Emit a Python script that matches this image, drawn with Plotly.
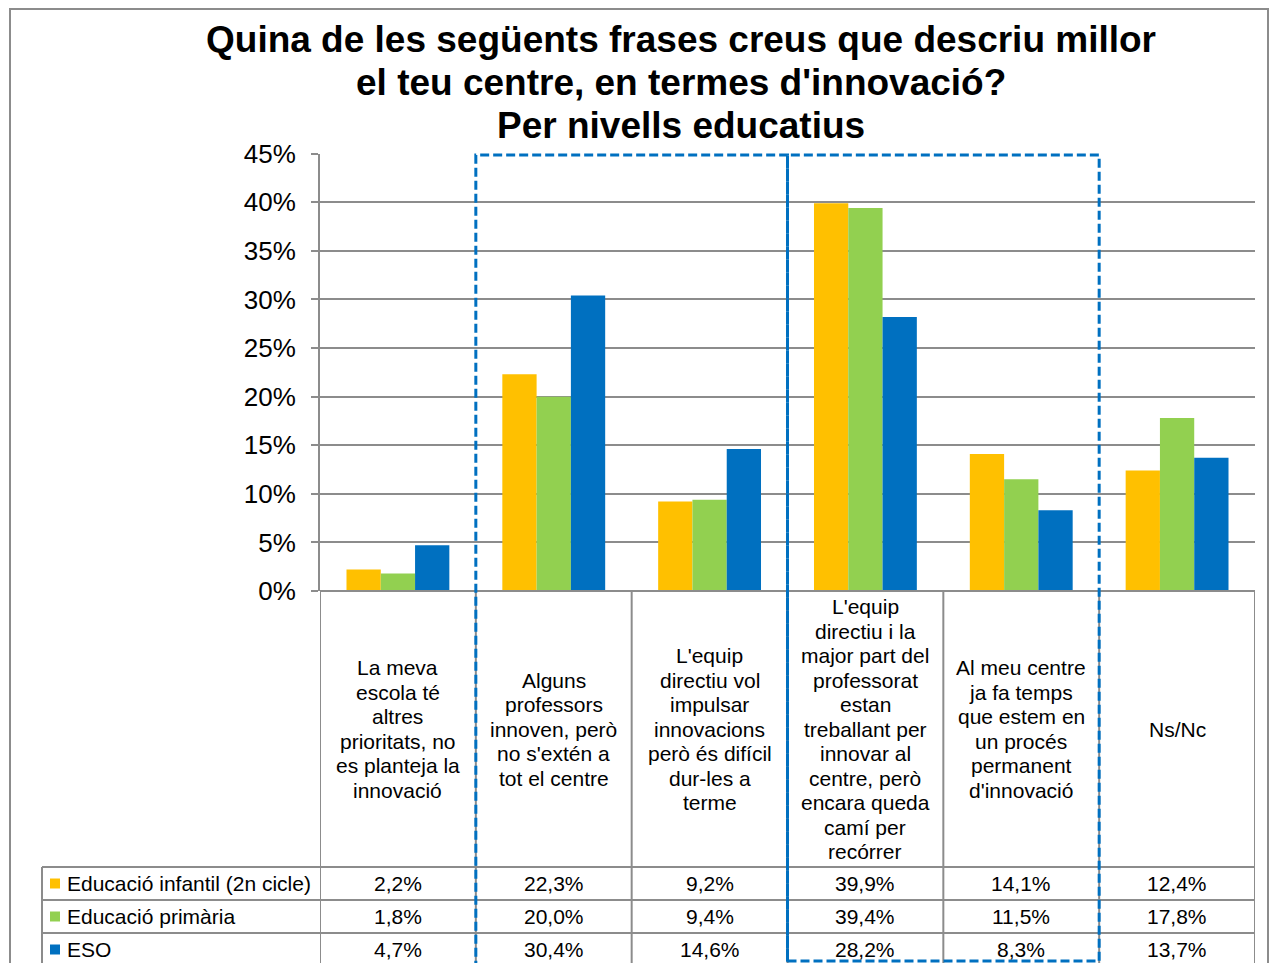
import plotly.graph_objects as go

# ---------------- data ----------------
categories = [
    "La meva<br>escola té<br>altres<br>prioritats, no<br>es planteja la<br>innovació",
    "Alguns<br>professors<br>innoven, però<br>no s'extén a<br>tot el centre",
    "L'equip<br>directiu vol<br>impulsar<br>innovacions<br>però és difícil<br>dur-les a<br>terme",
    "L'equip<br>directiu i la<br>major part del<br>professorat<br>estan<br>treballant per<br>innovar al<br>centre, però<br>encara queda<br>camí per<br>recórrer",
    "Al meu centre<br>ja fa temps<br>que estem en<br>un procés<br>permanent<br>d'innovació",
    "Ns/Nc",
]
series_names = ["Educació infantil (2n cicle)", "Educació primària", "ESO"]
infantil = [2.2, 22.3, 9.2, 39.9, 14.1, 12.4]
primaria = [1.8, 20.0, 9.4, 39.4, 11.5, 17.8]
eso = [4.7, 30.4, 14.6, 28.2, 8.3, 13.7]
series_values = [infantil, primaria, eso]
colors = ["#FFC000", "#92D050", "#0070C0"]
title_lines = [
    "Quina de les següents frases creus que descriu millor",
    "el teu centre, en termes d'innovació?",
    "Per nivells educatius",
]

# ---------------- layout helpers ----------------
OFF = 8                      # page body margin
W, H = 1282 - OFF, 963 - OFF
FONT = "Liberation Sans, Arial, sans-serif"
GRID = "#8C8C8C"
BLUE = "#0070C0"


def X(px):
    return (px - OFF) / W


def Y(py):
    return 1 - (py - OFF) / H


plot_left, plot_right = 320, 1255
plot_top, plot_bottom = 153.7, 591
x_keys = [c.replace("<br>", " ") for c in categories]

fig = go.Figure()
for name, vals, col in zip(series_names, series_values, colors):
    fig.add_trace(go.Bar(
        x=x_keys, y=[v / 100 for v in vals], name=name,
        marker=dict(color=col, line=dict(width=0)),
        showlegend=False, hoverinfo="skip",
    ))

shapes = []
annotations = []

# outer frame
shapes.append(dict(type="rect", xref="paper", yref="paper",
                   x0=X(10), x1=X(1268), y0=Y(975), y1=Y(9),
                   line=dict(color=GRID, width=2), layer="below"))

# title
for k, t in enumerate(title_lines):
    annotations.append(dict(text=f"<b>{t}</b>", xref="paper", yref="paper",
                            x=X(681), y=Y(40 + 42.5 * k), xanchor="center", yanchor="middle",
                            showarrow=False, font=dict(family=FONT, size=37, color="black")))

# table grid lines
table_rows = [867, 900, 933, 966]
shapes.append(dict(type="line", xref="paper", yref="paper",
                   x0=X(plot_left), x1=X(plot_right), y0=Y(plot_bottom), y1=Y(plot_bottom),
                   line=dict(color=GRID, width=2)))
for ry in table_rows:
    shapes.append(dict(type="line", xref="paper", yref="paper",
                       x0=X(42), x1=X(plot_right), y0=Y(ry), y1=Y(ry),
                       line=dict(color=GRID, width=2)))
for i in range(len(categories) + 1):
    shapes.append(dict(type="line", xref="x", yref="paper",
                       x0=i - 0.5, x1=i - 0.5, y0=Y(plot_bottom), y1=Y(975),
                       line=dict(color=GRID, width=2)))
shapes.append(dict(type="line", xref="paper", yref="paper",
                   x0=X(42), x1=X(42), y0=Y(867), y1=Y(975),
                   line=dict(color=GRID, width=2)))

# category labels (one annotation per line)
line_h = 24.5
cat_center = (plot_bottom + 867) / 2
for i, c in enumerate(categories):
    lines = c.split("<br>")
    n = len(lines)
    for k, ln in enumerate(lines):
        annotations.append(dict(text=ln, xref="x", yref="paper", x=i,
                                y=Y(cat_center + (k - (n - 1) / 2) * line_h),
                                xanchor="center", yanchor="middle", showarrow=False,
                                font=dict(family=FONT, size=21, color="black")))

# table values and row labels
row_centers = [883.5, 916.5, 949.5]
for r, (name, vals, col) in enumerate(zip(series_names, series_values, colors)):
    yc = row_centers[r]
    shapes.append(dict(type="rect", xref="paper", yref="paper",
                       x0=X(50), x1=X(60), y0=Y(yc + 5), y1=Y(yc - 5),
                       fillcolor=col, line=dict(width=0)))
    annotations.append(dict(text=name, xref="paper", yref="paper", x=X(65), y=Y(yc),
                            xanchor="left", yanchor="middle", showarrow=False,
                            font=dict(family=FONT, size=21, color="black")))
    for i, v in enumerate(vals):
        annotations.append(dict(text=f"{v:.1f}%".replace(".", ","), xref="x", yref="paper",
                                x=i, y=Y(yc), xanchor="center", yanchor="middle",
                                showarrow=False, font=dict(family=FONT, size=21, color="black")))

# dashed highlight boxes
dash = "9px,4px"
shapes.append(dict(type="rect", xref="x", yref="paper", x0=0.5, x1=2.5,
                   y0=Y(975), y1=Y(155), line=dict(color=BLUE, width=3, dash=dash)))
shapes.append(dict(type="rect", xref="x", yref="paper", x0=2.5, x1=4.5,
                   y0=Y(961), y1=Y(155), line=dict(color=BLUE, width=3, dash=dash)))

fig.update_layout(
    width=W, height=H, autosize=False,
    margin=dict(l=0, r=0, t=0, b=0, pad=0, autoexpand=False),
    paper_bgcolor="white", plot_bgcolor="white",
    barmode="group", bargap=0.34, bargroupgap=0,
    font=dict(family=FONT, color="black"),
    shapes=shapes, annotations=annotations,
    xaxis=dict(type="category", domain=[X(plot_left), X(plot_right)], range=[-0.5, 5.5],
               showticklabels=False, showgrid=False, zeroline=False, showline=False, ticks="",
               automargin=False),
    yaxis=dict(domain=[Y(plot_bottom), Y(plot_top)], range=[0, 0.45], dtick=0.05,
               tickformat=".0%", showgrid=True, gridcolor=GRID, gridwidth=2,
               showline=True, linecolor=GRID, linewidth=2, ticks="outside", ticklen=7,
               tickwidth=2, tickcolor=GRID, zeroline=False, ticklabelstandoff=10,
               automargin=False,
               tickfont=dict(family=FONT, size=26, color="black")),
)

fig.write_html("out.html")
